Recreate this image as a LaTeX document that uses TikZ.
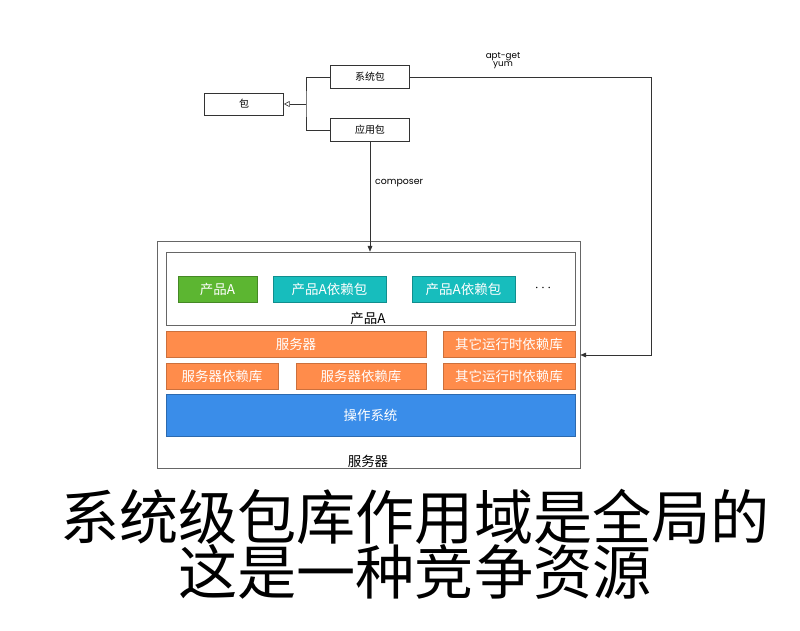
\documentclass[tikz,border=0pt]{standalone}
\usepackage{fontspec}
\setmainfont{Noto Sans CJK SC}
\newfontfamily\latinfont{Poppins}
\usetikzlibrary{arrows.meta, positioning}

\definecolor{pkgorange}{HTML}{FF8C4B}
\definecolor{pkggreen}{HTML}{5CB631}
\definecolor{pkgteal}{HTML}{17BDBD}
\definecolor{pkgblue}{HTML}{3A8DE9}

\begin{document}
\begin{tikzpicture}[
        x=0.03cm, y=-0.03cm,
        box/.style={rectangle, draw=black!80, line width=0.5pt, minimum width=2.37cm, minimum height=0.69cm, inner sep=0pt, font=\fontsize{8.5}{10}\selectfont},
        frame/.style={rectangle, draw=black!60, line width=0.5pt, inner sep=0pt},
        layer/.style={rectangle, inner sep=0pt, minimum height=0.78cm, text=white, font=\fontsize{11.5}{13}\selectfont},
        orangebox/.style={layer, fill=pkgorange, draw=pkgorange!80!black},
        arrow/.style={-{Triangle[length=5pt, width=4pt]}, line width=0.5pt, draw=black!80},
        tag/.style={font=\latinfont\fontsize{7.5}{8}\selectfont, inner sep=0pt}
    ]
        \useasboundingbox (0,0) rectangle (800,630);

        % Package types
        \node[box, minimum height=0.66cm] (pkg) at (244,104) {包};
        \node[box] (sys) at (370,77) {系统包};
        \node[box] (app) at (370,130) {应用包};
        \coordinate (joint) at (306,104);
        \draw[line width=0.5pt, black!80] (sys.west) -| (joint) |- (app.west);
        \draw[-{Triangle[open, length=5pt, width=5pt]}, line width=0.5pt, black!80] (joint) -- (pkg.east);

        % Server
        \node[frame, minimum width=12.69cm, minimum height=6.81cm] (server) at (368.5,354.5) {};
        \node[font=\fontsize{11.5}{13}\selectfont, inner sep=0pt] (serverlabel) at (368,461) {服务器};
        \node[frame, minimum width=12.27cm, minimum height=2.19cm] (prod) at (370.5,288.5) {};
        \node[font=\fontsize{11.5}{13}\selectfont, inner sep=0pt] (prodlabel) at (368,318) {产品A};

        % Product A row
        \node[layer, fill=pkggreen, draw=pkggreen!75!black, minimum width=2.37cm] (prodA) at (217.5,289) {产品A};
        \node[layer, fill=pkgteal, draw=pkgteal!75!black, minimum width=3.39cm] (depA) at (329.5,289) {产品A依赖包};
        \node[layer, fill=pkgteal, draw=pkgteal!75!black, minimum width=3.09cm] (depB) at (463.5,289) {产品A依赖包};
        \node[font=\fontsize{13}{14}\selectfont, inner sep=0pt] (more) at (543,288) {$\cdots$};

        % Runtime layers
        \node[orangebox, minimum width=7.8cm] (srv) at (296,344) {服务器};
        \node[orangebox, minimum width=3.96cm] (rt1) at (509,344) {其它运行时依赖库};
        \node[orangebox, minimum width=3.36cm] (srvdep1) at (222,376) {服务器依赖库};
        \node[orangebox, minimum width=3.9cm] (srvdep2) at (361,376) {服务器依赖库};
        \node[orangebox, minimum width=3.96cm] (rt2) at (509,376) {其它运行时依赖库};
        \node[layer, fill=pkgblue, draw=pkgblue!75!black, minimum width=12.27cm, minimum height=1.26cm] (os) at (370.5,415) {操作系统};

        % Installers
        \coordinate (bend) at (651,355);
        \draw[arrow] (sys.east) -| (bend) -- (bend -| server.east);
        \node[tag, align=center] (aptget) at (503,61) {apt-get\\[-1pt]yum};
        \draw[arrow] (app.south) -- (app.south |- prod.north);
        \node[tag, anchor=west, font=\latinfont\fontsize{8}{9}\selectfont] (composer) at (375,183) {composer};

        % Caption
        \node[font=\fontsize{50.5}{55}\selectfont, inner sep=0pt] (line1) at (415,517) {系统级包库作用域是全局的};
        \node[font=\fontsize{50.5}{55}\selectfont, inner sep=0pt] (line2) at (415,572) {这是一种竞争资源};
    \end{tikzpicture}
\end{document}
